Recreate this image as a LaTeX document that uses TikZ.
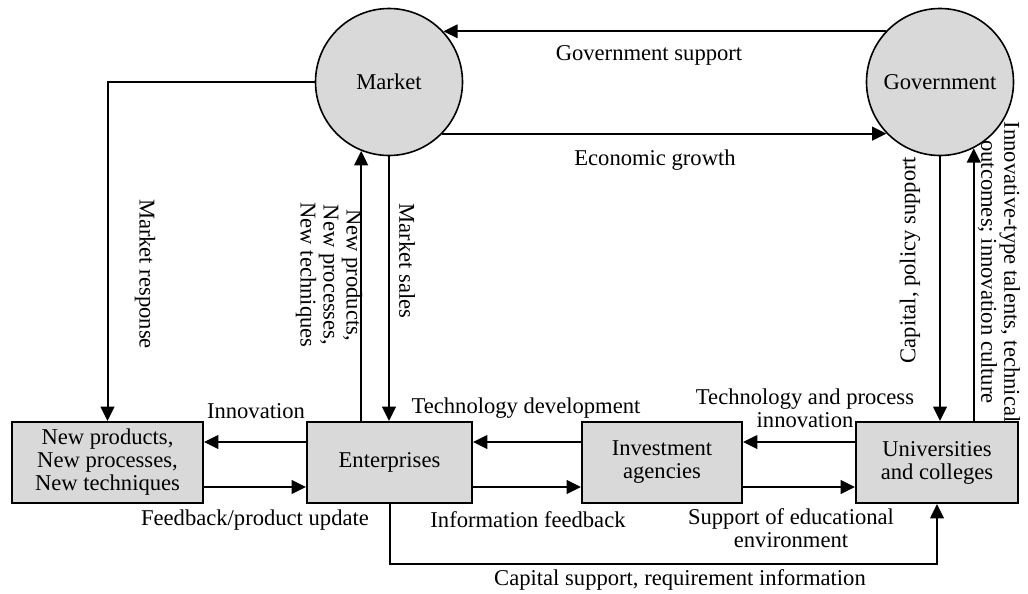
\documentclass[tikz,border=0pt]{standalone}
\usepackage{fontspec}
\setmainfont{Liberation Serif}
\usetikzlibrary{arrows.meta}
\definecolor{boxgray}{RGB}{217,217,217}
\begin{document}
\begin{tikzpicture}[x=0.5pt,y=-0.5pt,
  font=\fontsize{11.3}{11.5}\selectfont,
  hub/.style={circle,draw,line width=0.8pt,fill=boxgray,minimum size=73.5pt,inner sep=0pt},
  unit/.style={draw,line width=1pt,fill=boxgray,minimum height=40.5pt,inner sep=0pt,align=center},
  arr/.style={line width=1pt,-{Triangle[length=7.2pt,width=6.8pt]}},
  lbl/.style={inner sep=0pt,align=center}]
\useasboundingbox (0,0) rectangle (1028,594);

% actors
\node[hub] (market) at (389,82) {Market};
\node[hub] (gov) at (940,82) {Government};
\node[unit,minimum width=95.5pt] (newp) at (107.5,462.5) {New products,\\New processes,\\New techniques};
\node[unit,minimum width=82.5pt] (ent) at (389.5,462.5) {Enterprises};
\node[unit,minimum width=80pt] (inv) at (662,462.5) {Investment\\agencies};
\node[unit,minimum width=81pt] (univ) at (937,462.5) {Universities\\and colleges};
\coordinate (capturn) at (389.5,564);

% flows between market and government
\draw[arr] (gov.137) -- (market.43);
\draw[arr] (market.-44) -- (gov.-136);

% market links
\draw[arr] (market.west) -| (newp.north);
\draw[arr] (ent.north -| market.-112) -- (market.-112);
\draw[arr] (market.south) -- (market.south |- ent.north);

% government links
\draw[arr] (gov.south) -- (gov.south |- univ.north);
\draw[arr] (univ.north -| gov.-63) -- (gov.-63);

% horizontal chain
\draw[arr] ([yshift=10.25pt]ent.west) -- ([yshift=10.25pt]newp.east);
\draw[arr] ([yshift=-12.25pt]newp.east) -- ([yshift=-12.25pt]ent.west);
\draw[arr] ([yshift=10.25pt]inv.west) -- ([yshift=10.25pt]ent.east);
\draw[arr] ([yshift=-12.25pt]ent.east) -- ([yshift=-12.25pt]inv.west);
\draw[arr] ([yshift=10.25pt]univ.west) -- ([yshift=10.25pt]inv.east);
\draw[arr] ([yshift=-12.25pt]inv.east) -- ([yshift=-12.25pt]univ.west);

% enterprises to universities
\draw[arr] (ent.south) -- (capturn) -| (univ.south);

% labels
\node[lbl] (lgs) at (649,55) {Government support};
\node[lbl] (leg) at (655,160) {Economic growth};
\node[lbl,rotate=-90] (lmr) at (145,274) {Market response};
\node[lbl,rotate=-90] (lnp) at (329,275) {New products,\\New processes,\\New techniques};
\node[lbl,rotate=-90] (lms) at (407,261) {Market sales};
\node[lbl,rotate=90] (lcp) at (910,260) {Capital, policy support};
\node[lbl,rotate=-90] (lit) at (999,272) {Innovative-type talents, technical\\outcomes; innovation culture};
\node[lbl] (lin) at (256,411) {Innovation};
\node[lbl] (lfb) at (255,520) {Feedback/product update};
\node[lbl] (ltd) at (526,408) {Technology development};
\node[lbl] (lif) at (528,520) {Information feedback};
\node[lbl] (ltp) at (805,408) {Technology and process\\innovation};
\node[lbl] (lse) at (791,528) {Support of educational\\environment};
\node[lbl] (lcs) at (680,580) {Capital support, requirement information};
\end{tikzpicture}
\end{document}
